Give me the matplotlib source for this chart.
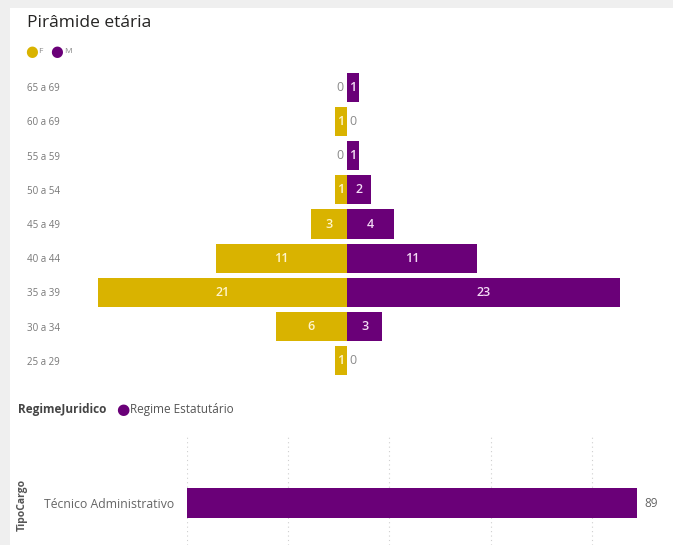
import matplotlib.pyplot as plt
from matplotlib.patches import Rectangle

plt.rcParams['font.family'] = ['Open Sans', 'DejaVu Sans']

# dados da piramide
faixas = ["65 a 69", "60 a 69", "55 a 59", "50 a 54", "45 a 49",
          "40 a 44", "35 a 39", "30 a 34", "25 a 29"]
fem = [0, 1, 0, 1, 3, 11, 21, 6, 1]
masc = [1, 0, 1, 2, 4, 11, 23, 3, 0]

# dados do grafico de baixo
cargos = ["Técnico Administrativo"]
qtd_cargo = [89]

cor_f = "#D9B300"
cor_m = "#6A0078"
cinza = "#8a8a8a"

W, H = 673, 545
fig = plt.figure(figsize=(W / 100, H / 100), dpi=100, facecolor="#efefef")

# painel branco
fig.patches.append(Rectangle((10 / W, 0), 1, 1 - 8 / H, transform=fig.transFigure,
                             facecolor="white", edgecolor="none", zorder=-10))

def px_axes(x0, y0, x1, y1):
    # caixa em pixels (y a partir do topo)
    a = fig.add_axes([x0 / W, 1 - y1 / H, (x1 - x0) / W, (y1 - y0) / H])
    a.set_zorder(2)
    return a

fig.text(27 / W, 1 - 23 / H, "Pirâmide etária", fontsize=12.5, color="#252423",
         va="center", ha="left")

# legenda F / M
fig.text(25 / W, 1 - 51 / H, "●", color=cor_f, fontsize=10.5, va="center",
         family="DejaVu Sans")
fig.text(38 / W, 1 - 51 / H, "F", color=cinza, fontsize=6, va="center")
fig.text(50 / W, 1 - 51 / H, "●", color=cor_m, fontsize=10.5, va="center",
         family="DejaVu Sans")
fig.text(64 / W, 1 - 51 / H, "M", color=cinza, fontsize=6, va="center")

# piramide
ax = px_axes(80, 70, 660, 378)
ax.set_facecolor("none")
pos = list(range(len(faixas)))
ax.barh(pos, [-v for v in fem], height=0.85, color=cor_f)
ax.barh(pos, masc, height=0.85, color=cor_m)
ax.set_xlim(-22.5, 26.4)
ax.set_ylim(8.5, -0.5)
ax.set_yticks(pos)
ax.set_yticklabels(faixas, ha="left", fontsize=7, color="#777777")
ax.tick_params(axis="y", length=0, pad=38)
ax.set_xticks([])
for s in ax.spines.values():
    s.set_visible(False)

for i in pos:
    f, m = fem[i], masc[i]
    if f > 0:
        ax.text(-f / 2, i, str(f), ha="center", va="center", color="#fff5cc",
                fontsize=9, fontweight="semibold")
    else:
        ax.text(-0.25, i, "0", ha="right", va="center", color=cinza, fontsize=9)
    if m > 0:
        ax.text(m / 2, i, str(m), ha="center", va="center", color="#f3dcf5",
                fontsize=9, fontweight="semibold")
    else:
        ax.text(0.25, i, "0", ha="left", va="center", color=cinza, fontsize=9)

# legenda regime
fig.text(18 / W, 1 - 410 / H, "RegimeJuridico", fontsize=8.5, fontweight="bold",
         color="#444444", va="center")
fig.text(116 / W, 1 - 410 / H, "●", color=cor_m, fontsize=11, va="center",
         family="DejaVu Sans")
fig.text(130 / W, 1 - 410 / H, "Regime Estatutário", fontsize=8.5, color="#555555",
         va="center")

# grafico de baixo
ax2 = px_axes(187, 435, 660, 545)
ax2.set_facecolor("none")
ax2.barh([0], qtd_cargo, height=1.0, color=cor_m)
ax2.set_xlim(0, 93.5)
ax2.set_ylim(-1.4, 2.27)
ax2.set_xticks([0, 20, 40, 60, 80])
ax2.grid(axis="x", linestyle=(0, (1, 3)), color="#cfcfcf", linewidth=0.8)
ax2.set_axisbelow(True)
ax2.tick_params(axis="x", length=0, labelbottom=False)
ax2.set_yticks([0])
ax2.set_yticklabels(cargos, fontsize=8.8, color="#666666")
ax2.tick_params(axis="y", length=0, pad=9)
for s in ax2.spines.values():
    s.set_visible(False)
ax2.text(qtd_cargo[0] + 1.5, 0, str(qtd_cargo[0]), ha="left", va="center",
         fontsize=8.5, color="#666666")

fig.text(22 / W, 1 - 505 / H, "TipoCargo", rotation=90, fontsize=7.5,
         fontweight="bold", color="#555555", ha="center", va="center")

fig.savefig("out.png", dpi=100, facecolor=fig.get_facecolor())
